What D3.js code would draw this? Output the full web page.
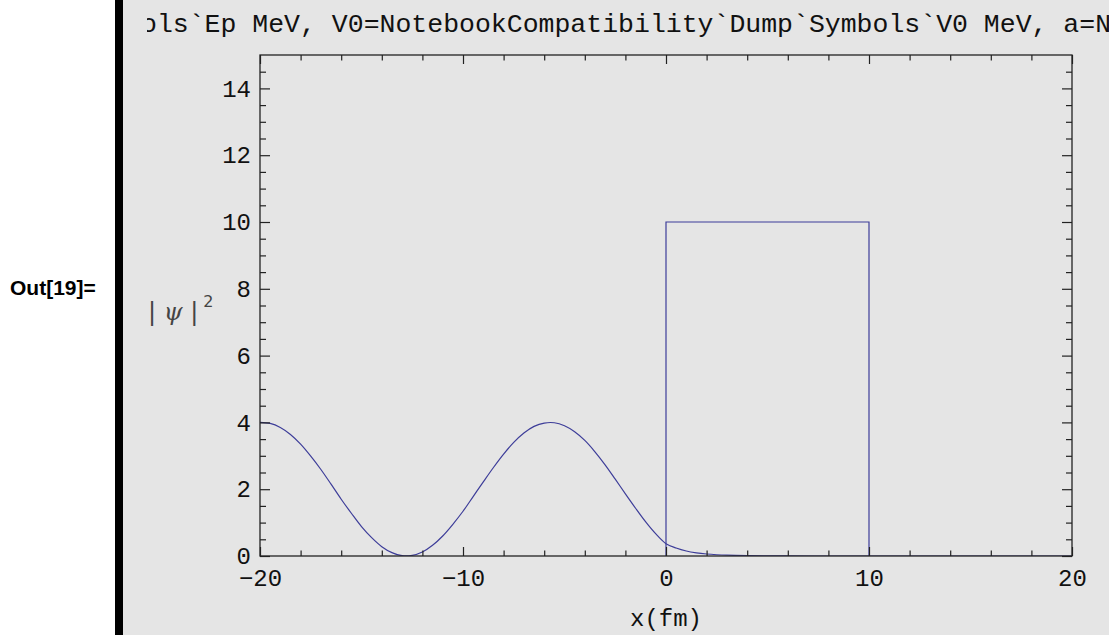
<!DOCTYPE html>
<html>
<head>
<meta charset="utf-8">
<script src="https://cdn.jsdelivr.net/npm/d3@7"></script>
<style>
  body { margin: 0; background: #fff; }
  svg { display: block; }
</style>
</head>
<body>
<div id="grafico"></div>
<script>
// Area de dibujo
const WIDTH = 1109;
const HEIGHT = 635;

// Datos: |psi|^2 frente a x (fm)
var xOnda = [-20, -19.5, -19, -18.5, -18, -17.5, -17, -16.5, -16, -15.5, -15, -14.5, -14, -13.5,
             -13, -12.5, -12, -11.5, -11, -10.5, -10, -9.5, -9, -8.5, -8, -7.5, -7, -6.5, -6,
             -5.5, -5, -4.5, -4, -3.5, -3, -2.5, -2, -1.5, -1, -0.5, 0,
             0.5, 1, 1.5, 2, 2.5, 3, 4, 5, 6, 8, 10, 15, 20];
var yOnda = [4.00, 3.97, 3.85, 3.64, 3.35, 2.99, 2.59, 2.15, 1.70, 1.28, 0.88, 0.55, 0.28, 0.10,
             0.01, 0.02, 0.12, 0.32, 0.60, 0.95, 1.34, 1.78, 2.22, 2.65, 3.05, 3.40, 3.68, 3.88, 3.98,
             3.99, 3.90, 3.72, 3.46, 3.12, 2.73, 2.30, 1.86, 1.43, 1.02, 0.66, 0.37,
             0.24, 0.15, 0.095, 0.06, 0.038, 0.024, 0.01, 0.004, 0.0015, 0, 0, 0, 0];

// Barrera de potencial (rectangulo)
var xBarrera = [0, 0, 10, 10];
var yBarrera = [0, 10, 10, 0];

// Marcas de los ejes
var ticksX = [-20, -10, 0, 10, 20];
var ticksY = [0, 2, 4, 6, 8, 10, 12, 14];
var ticksXMenor = [-18, -16, -14, -12, -8, -6, -4, -2, 2, 4, 6, 8, 12, 14, 16, 18];
var ticksYMenor = [0.5, 1, 1.5, 2.5, 3, 3.5, 4.5, 5, 5.5, 6.5, 7, 7.5, 8.5, 9, 9.5,
                   10.5, 11, 11.5, 12.5, 13, 13.5, 14.5];

var titulo = "ols`Ep MeV, V0=NotebookCompatibility`Dump`Symbols`V0 MeV, a=N";

var svg = d3.select("#grafico")
    .append("svg")
    .attr("width", WIDTH)
    .attr("height", HEIGHT);

// Fondo gris de la celda y barra negra
svg.append("rect")
    .attr("x", 122).attr("y", 0)
    .attr("width", WIDTH - 122).attr("height", HEIGHT)
    .attr("fill", "#e5e5e5");
svg.append("rect")
    .attr("x", 115).attr("y", 0)
    .attr("width", 8).attr("height", HEIGHT)
    .attr("fill", "#000");

svg.append("text")
    .attr("x", 10).attr("y", 295)
    .style("font-family", "'Liberation Sans', Arial, sans-serif")
    .style("font-weight", "bold")
    .style("font-size", "21px")
    .text("Out[19]=");

// Escalas
var margen = {left: 260, right: 1072, top: 55, bottom: 556};
var x = d3.scaleLinear().domain([-20, 20]).range([margen.left, margen.right]);
var y = d3.scaleLinear().domain([0, 15]).range([margen.bottom, margen.top]);

var defs = svg.append("defs");
defs.append("clipPath").attr("id", "clipTitulo")
  .append("rect").attr("x", 147).attr("y", 0).attr("width", WIDTH - 147).attr("height", 50);
defs.append("clipPath").attr("id", "clipPlot")
  .append("rect").attr("x", margen.left).attr("y", margen.top)
  .attr("width", margen.right - margen.left).attr("height", margen.bottom - margen.top);

// Titulo (cortado por los lados como en el original)
svg.append("text")
    .attr("clip-path", "url(#clipTitulo)")
    .attr("x", 141).attr("y", 32)
    .style("font-family", "'Liberation Mono', 'Courier New', monospace")
    .style("font-size", "26.5px")
    .attr("fill", "#111")
    .text(titulo);

// Curvas
var linea = d3.line()
    .x(function(d) { return x(d[0]); })
    .y(function(d) { return y(d[1]); });

var plot = svg.append("g").attr("clip-path", "url(#clipPlot)");

plot.append("path")
    .datum(xOnda.map(function(v, i) { return [v, yOnda[i]]; }))
    .attr("d", linea.curve(d3.curveCatmullRom))
    .attr("fill", "none")
    .attr("stroke", "#3d3d99")
    .attr("stroke-width", 1.2);

plot.append("path")
    .datum(xBarrera.map(function(v, i) { return [v, yBarrera[i]]; }))
    .attr("d", d3.line().x(function(d) { return x(d[0]); }).y(function(d) { return y(d[1]); }))
    .attr("fill", "none")
    .attr("stroke", "#3d3d99")
    .attr("stroke-width", 1.2);

// Ejes (marcas hacia dentro)
var fuenteEje = "'Liberation Mono', 'Courier New', monospace";

function estilo(g) {
    g.select(".domain").remove();
    g.selectAll(".tick line").attr("stroke", "#222").attr("stroke-width", 1.2);
    g.selectAll(".tick text")
        .attr("fill", "#111")
        .style("font-family", fuenteEje)
        .style("font-size", "24px");
}

svg.append("g")
    .attr("transform", "translate(0," + margen.bottom + ")")
    .call(d3.axisBottom(x).tickValues(ticksX).tickSizeInner(-9).tickSizeOuter(0).tickPadding(13)
        .tickFormat(function(d) { return d < 0 ? "\u2212" + Math.abs(d) : d; }))
    .call(estilo);
svg.append("g")
    .attr("transform", "translate(0," + margen.bottom + ")")
    .call(d3.axisBottom(x).tickValues(ticksXMenor).tickSizeInner(-5.5).tickSizeOuter(0).tickFormat(""))
    .call(estilo);

svg.append("g")
    .attr("transform", "translate(0," + margen.top + ")")
    .call(d3.axisTop(x).tickValues(ticksX).tickSizeInner(-9).tickSizeOuter(0).tickFormat(""))
    .call(estilo);
svg.append("g")
    .attr("transform", "translate(0," + margen.top + ")")
    .call(d3.axisTop(x).tickValues(ticksXMenor).tickSizeInner(-5.5).tickSizeOuter(0).tickFormat(""))
    .call(estilo);

svg.append("g")
    .attr("transform", "translate(" + margen.left + ",0)")
    .call(d3.axisLeft(y).tickValues(ticksY).tickSizeInner(-10).tickSizeOuter(0).tickPadding(9))
    .call(estilo);
svg.append("g")
    .attr("transform", "translate(" + margen.left + ",0)")
    .call(d3.axisLeft(y).tickValues(ticksYMenor).tickSizeInner(-6).tickSizeOuter(0).tickFormat(""))
    .call(estilo);

svg.append("g")
    .attr("transform", "translate(" + margen.right + ",0)")
    .call(d3.axisRight(y).tickValues(ticksY).tickSizeInner(-10).tickSizeOuter(0).tickFormat(""))
    .call(estilo);
svg.append("g")
    .attr("transform", "translate(" + margen.right + ",0)")
    .call(d3.axisRight(y).tickValues(ticksYMenor).tickSizeInner(-6).tickSizeOuter(0).tickFormat(""))
    .call(estilo);

// Marco
svg.append("rect")
    .attr("x", margen.left).attr("y", margen.top)
    .attr("width", margen.right - margen.left).attr("height", margen.bottom - margen.top)
    .attr("fill", "none")
    .attr("stroke", "#222")
    .attr("stroke-width", 1.3);

// Etiquetas de los ejes
svg.append("text")
    .attr("x", (margen.left + margen.right) / 2).attr("y", 626)
    .attr("text-anchor", "middle")
    .style("font-family", fuenteEje)
    .style("font-size", "24px")
    .attr("fill", "#111")
    .text("x(fm)");

var etY = svg.append("text")
    .attr("x", 148).attr("y", 320)
    .style("font-family", "'DejaVu Sans', sans-serif")
    .style("font-size", "24px")
    .attr("fill", "#444");
etY.append("tspan").text("| ");
etY.append("tspan").style("font-family", "'DejaVu Serif', serif").style("font-style", "italic").text("\u03c8");
etY.append("tspan").text(" |");
etY.append("tspan").attr("dy", -13).style("font-size", "16px").text(" 2");
</script>
</body>
</html>
